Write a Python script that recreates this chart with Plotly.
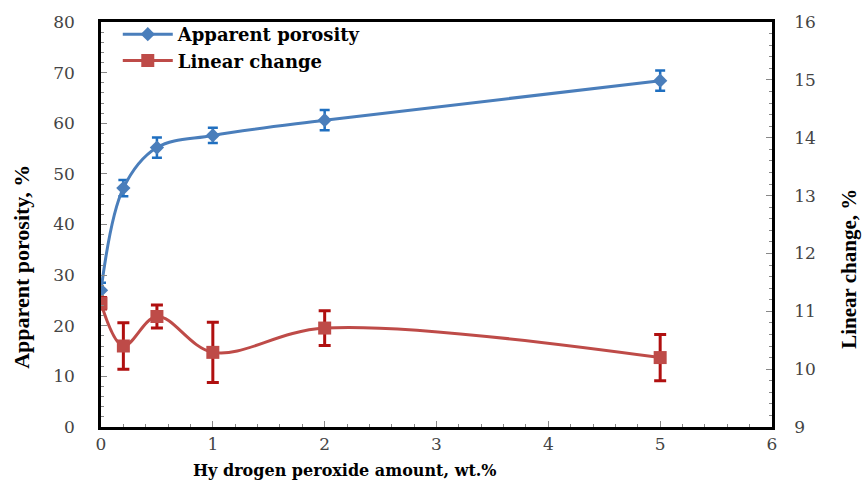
import plotly.graph_objects as go

h2o2 = [0, 0.2, 0.5, 1, 2, 5]
porosity = [27.0, 47.2, 55.2, 57.6, 60.6, 68.4]
porosity_err = [1.5, 1.6, 2.0, 1.5, 2.0, 2.0]
linear = [11.14, 10.40, 10.91, 10.29, 10.71, 10.20]
linear_err = [0.1, 0.40, 0.20, 0.52, 0.30, 0.40]

x_title = "Hy drogen peroxide amount, wt.%"
y_title = "Apparent porosity, %"
y2_title = "Linear change, %"

serif = "Liberation Serif, Times New Roman, serif"
wide = "DejaVu Serif, serif"

fig = go.Figure()
fig.add_trace(go.Scatter(
    x=h2o2, y=porosity, name="Apparent porosity", mode="lines+markers",
    line=dict(color="#4a7ebb", width=3, shape="spline", smoothing=1.0),
    marker=dict(symbol="diamond", size=11, color="#4a7ebb"),
    error_y=dict(type="data", array=porosity_err, color="#1f6fc0", thickness=2.5, width=5),
))
fig.add_trace(go.Scatter(
    x=h2o2, y=linear, name="Linear change", mode="lines+markers", yaxis="y2",
    line=dict(color="#be4b48", width=3, shape="spline", smoothing=1.0),
    marker=dict(symbol="square", size=13, color="#be4b48"),
    error_y=dict(type="data", array=linear_err, color="#b01010", thickness=3, width=6),
))

axis_common = dict(
    showgrid=False, zeroline=False, ticks="inside", ticklen=6, tickwidth=1,
    tickcolor="#888", tickfont=dict(family=wide, size=17, color="#444"),
    linecolor="black", linewidth=2.5,
)

fig.update_layout(
    width=865, height=483,
    margin=dict(l=101, r=93, t=20, b=56),
    plot_bgcolor="white", paper_bgcolor="white",
    showlegend=True,
    legend=dict(x=0.025, y=1.015, xanchor="left", yanchor="top", itemwidth=50,
                font=dict(family=wide, size=18, color="black", weight="bold"),
                bgcolor="rgba(0,0,0,0)", tracegroupgap=0),
    xaxis=dict(axis_common, range=[0, 6], dtick=1, mirror=True,
               minor=dict(dtick=0.2, ticks="inside", ticklen=3, tickcolor="#888")),
    yaxis=dict(axis_common, range=[0, 80], dtick=10, ticklabelstandoff=20,
               minor=dict(dtick=2, ticks="inside", ticklen=3, tickcolor="#888")),
    yaxis2=dict(axis_common, range=[9, 16], dtick=1, overlaying="y", side="right",
                ticklabelstandoff=16,
                minor=dict(dtick=0.2, ticks="inside", ticklen=3, tickcolor="#888")),
    annotations=[
        dict(text=x_title, xref="paper", yref="paper", x=(345 - 101) / 671, y=-(471 - 427) / 407,
             showarrow=False, xanchor="center", yanchor="middle",
             font=dict(family=wide, size=16, color="black", weight="bold")),
        dict(text=y_title, xref="paper", yref="paper", x=-(101 - 22) / 671, y=(427 - 266) / 407,
             showarrow=False, xanchor="center", yanchor="middle", textangle=-90,
             font=dict(family=serif, size=22, color="black", weight="bold")),
        dict(text=y2_title, xref="paper", yref="paper", x=(849 - 101) / 671, y=(427 - 268) / 407,
             showarrow=False, xanchor="center", yanchor="middle", textangle=-90,
             font=dict(family=serif, size=21, color="black", weight="bold")),
    ],
)
fig.write_html("out.html")
